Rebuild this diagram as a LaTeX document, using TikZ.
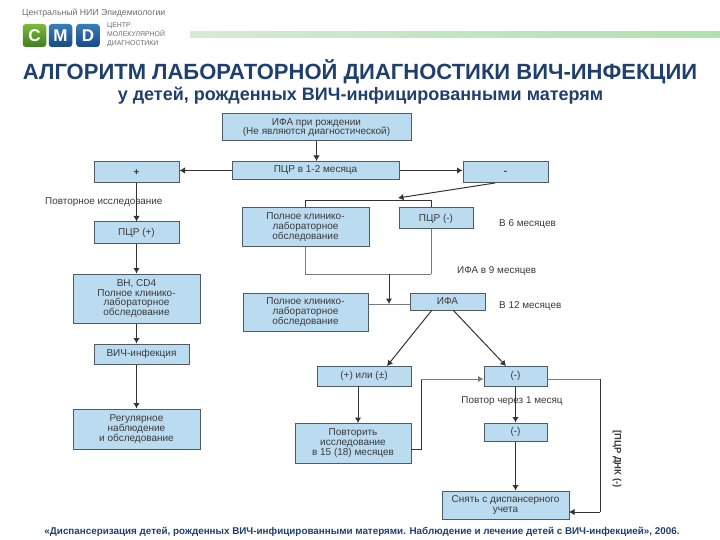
\documentclass[tikz,border=0pt]{standalone}
\usepackage{fontspec}
\setmainfont{Liberation Sans}
\usetikzlibrary{arrows.meta,calc}
\definecolor{titleblue}{HTML}{1F3F6E}
\definecolor{boxfill}{HTML}{BBDCF0}
\definecolor{boxline}{HTML}{4F5B66}
\definecolor{txt}{HTML}{3A3A3A}
\definecolor{linec}{HTML}{333333}
\definecolor{linel}{HTML}{7A7A7A}
\definecolor{greenT}{HTML}{7DB83A}
\definecolor{greenB}{HTML}{3F7F1F}
\definecolor{blueT}{HTML}{3C7DB8}
\definecolor{blueB}{HTML}{154A86}
\definecolor{barL}{HTML}{D5EBD5}
\definecolor{barR}{HTML}{B0E0B0}
\tikzset{
  bx/.style={draw=boxline,fill=boxfill,line width=1pt,inner sep=0pt,align=center,text=txt,font=\fontsize{10}{9.6}\selectfont},
  lbl/.style={inner sep=0pt,text=txt,font=\fontsize{9.9}{9.6}\selectfont},
  arr/.style={draw=linec,line width=1pt,-{Latex[length=5.5pt,width=6.5pt]}},
  ln/.style={draw=linec,line width=1pt},
  lnlight/.style={draw=linel,line width=1pt},
  logo/.style={rounded corners=3pt,minimum width=23.5pt,minimum height=23pt,inner sep=0pt,text=white,font=\fontsize{17}{17}\bfseries\selectfont},
}
\begin{document}
\begin{tikzpicture}[x=1pt,y=-1pt]
\useasboundingbox (0,0) rectangle (720,540);
% header
\node[inner sep=0pt,anchor=west,text=gray!85!black,font=\fontsize{8.7}{9}\selectfont] (hdr) at (22,13) {Центральный НИИ Эпидемиологии};
\node[logo,top color=greenT,bottom color=greenB] (lc) at (34.5,35.5) {C};
\node[logo,top color=blueT,bottom color=blueB] (lm) at (60.5,35.5) {M};
\node[logo,top color=blueT,bottom color=blueB] (ld) at (88,35.5) {D};
\node[inner sep=0pt,anchor=west,align=left,text=gray!85!black,font=\fontsize{6.9}{9}\selectfont] (ltx) at (107,35) {ЦЕНТР\\МОЛЕКУЛЯРНОЙ\\ДИАГНОСТИКИ};
\shade[left color=barL,right color=barR] (190,32) rectangle (720,38);
% titles
\node[inner sep=0pt,text=titleblue,font=\fontsize{22}{24}\bfseries\selectfont] (t1) at (360,72) {АЛГОРИТМ ЛАБОРАТОРНОЙ ДИАГНОСТИКИ ВИЧ-ИНФЕКЦИИ};
\node[inner sep=0pt,text=titleblue,font=\fontsize{18}{20}\bfseries\selectfont] (t2) at (360.5,96) {у детей, рожденных ВИЧ-инфицированными матерям};
% boxes
\node[bx,minimum width=189pt,minimum height=27pt] (ifa) at (316.5,127.5) {ИФА при рождении\\(Не являются диагностической)};
\node[bx,minimum width=167pt,minimum height=18pt] (pcr) at (315.5,170.5) {ПЦР в 1-2 месяца};
\node[bx,minimum width=85pt,minimum height=21pt] (plus) at (136.5,172.5) {\textbf{+}};
\node[bx,minimum width=85pt,minimum height=21pt] (minus) at (505.5,172.5) {\textbf{-}};
\node[bx,minimum width=127pt,minimum height=38pt] (full1) at (305.5,227) {Полное клинико-\\лабораторное\\обследование};
\node[bx,minimum width=74pt,minimum height=21pt] (pcrm) at (436,218.5) {ПЦР (-)};
\node[bx,minimum width=85pt,minimum height=21pt] (pcrp) at (136.5,232.5) {ПЦР (+)};
\node[bx,minimum width=127pt,minimum height=49pt] (vn) at (136.5,298.5) {ВН, CD4\\Полное клинико-\\лабораторное\\обследование};
\node[bx,minimum width=95pt,minimum height=20pt] (hiv) at (141.5,354) {ВИЧ-инфекция};
\node[bx,minimum width=127pt,minimum height=40pt] (reg) at (136.5,429) {Регулярное\\наблюдение\\и обследование};
\node[bx,minimum width=125pt,minimum height=38pt] (full2) at (305.5,312) {Полное клинико-\\лабораторное\\обследование};
\node[bx,minimum width=75pt,minimum height=17pt] (ifa2) at (447.5,301.5) {ИФА};
\node[bx,minimum width=94pt,minimum height=20pt] (pm) at (364,376) {(+) или (±)};
\node[bx,minimum width=63pt,minimum height=20pt] (neg1) at (515.5,376) {(-)};
\node[bx,minimum width=116pt,minimum height=40pt] (rep) at (353,443) {Повторить\\исследование\\в 15 (18) месяцев};
\node[bx,minimum width=63pt,minimum height=18pt] (neg2) at (515.5,432) {(-)};
\node[bx,minimum width=127pt,minimum height=28pt] (off) at (505.5,505) {Снять с диспансерного\\учета};
% labels
\node[lbl,anchor=west] (l1) at (45,202) {Повторное исследование};
\node[lbl,anchor=west] (l2) at (499,224) {В 6 месяцев};
\node[lbl,anchor=west] (l3) at (457,271) {ИФА в 9 месяцев};
\node[lbl,anchor=west] (l4) at (499,306) {В 12 месяцев};
\node[lbl] (l5) at (512,401) {Повтор через 1 месяц};
\node[lbl,rotate=-90,font=\fontsize{9.4}{10}\bfseries\selectfont] (l6) at (617,459) {[ПЦР ДНК (-)};
\node[inner sep=0pt,text=titleblue,font=\fontsize{9.85}{11}\bfseries\selectfont] (foot) at (362,532) {«Диспансеризация детей, рожденных ВИЧ-инфицированными матерями. Наблюдение и лечение детей с ВИЧ-инфекцией», 2006.};
% coordinates
\coordinate (busL) at (305,201);
\coordinate (busR) at (431,201);
\coordinate (busM) at (398,198);
\coordinate (mergeL) at (305,274);
\coordinate (mergeR) at (431,274);
\coordinate (mergeC) at (389,274);
\coordinate (join) at (389,304);
\coordinate (minusOut) at (495,183);
\coordinate (ifaL) at (432,310);
\coordinate (ifaR) at (453,310);
\coordinate (pmIn) at (387,366);
\coordinate (negIn) at (506,366);
\coordinate (pmOut) at (358,386);
\coordinate (repIn) at (358,423);
\coordinate (repOut) at (411,449);
\coordinate (repBend) at (421,449);
\coordinate (repTop) at (421,379);
\coordinate (negOut) at (547,379);
\coordinate (loopT) at (600,379);
\coordinate (loopB) at (600,512);
\coordinate (offIn) at (569,512);
% connectors
\draw[arr] (ifa.south) -- (ifa.south |- pcr.north);
\draw[arr] (pcr.west) -- (pcr.west -| plus.east);
\draw[arr] (pcr.east) -- (pcr.east -| minus.west);
\draw[arr] (minusOut) -- (busM);
\draw[ln] (full1.north -| busL) -- (busL) -- (busR) -- (pcrm.north -| busR);
\draw[arr] (plus.south) -- (pcrp.north);
\draw[arr] (pcrp.south) -- (vn.north);
\draw[arr] (vn.south) -- (vn.south |- hiv.north);
\draw[arr] (vn.south |- hiv.south) -- (reg.north);
\draw[lnlight] (full1.south -| mergeL) -- (mergeL) -- (mergeR);
\draw[lnlight] (pcrm.south -| mergeR) -- (mergeR);
\draw[arr] (mergeC) -- (join);
\draw[lnlight] (full2.east |- join) -- (ifa2.west |- join);
\draw[arr] (ifaL) -- (pmIn);
\draw[arr] (ifaR) -- (negIn);
\draw[arr] (pmOut) -- (repIn);
\draw[ln] (repOut) -- (repBend) -- (repTop);
\draw[arr,draw=linel] (repTop) -- (neg1.west |- repTop);
\draw[arr] (neg1.south) -- (neg2.north);
\draw[arr] (neg2.south) -- (neg2.south |- off.north);
\draw[lnlight] (negOut) -- (loopT);
\draw[ln] (loopT) -- (loopB);
\draw[arr] (loopB) -- (offIn);
\end{tikzpicture}
\end{document}
